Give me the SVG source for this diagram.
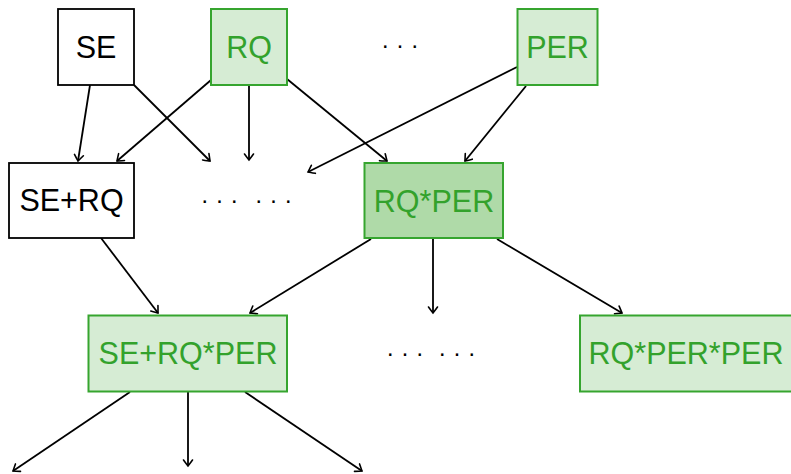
<svg xmlns="http://www.w3.org/2000/svg" width="791" height="474" viewBox="0 0 791 474">
  <style>
    .box { stroke: #000; stroke-width: 1.8; fill: #fff; }
    .gbox { stroke: #36a52f; stroke-width: 2; fill: #d6ecd4; }
    .gdark { fill: #afdaa8; }
    .lbl { font-family: "Liberation Sans", Arial, sans-serif; font-size: 30.5px; text-anchor: middle; fill: #000; }
    .glbl { fill: #33a22c; }
    .dots { font-family: "Liberation Sans", Arial, sans-serif; font-size: 24px; text-anchor: middle; fill: #000; }
    .edge { stroke: #000; stroke-width: 1.8; fill: none; marker-end: url(#to); }
  </style>
  <defs>
    <marker id="to" markerUnits="userSpaceOnUse" markerWidth="14" markerHeight="14" refX="0" refY="0" viewBox="-8 -7 10 14" orient="auto" overflow="visible">
      <path d="M -6 -4.5 Q -1.5 -1.2 0 0 Q -1.5 1.2 -6 4.5" fill="none" stroke="#000" stroke-width="1.6" stroke-linecap="round"/>
    </marker>
  </defs>

  <g id="connectors">
    <line class="edge" x1="90" y1="85" x2="78" y2="161"/>
    <line class="edge" x1="134" y1="85" x2="210" y2="161"/>
    <line class="edge" x1="211" y1="80" x2="117" y2="161"/>
    <line class="edge" x1="249" y1="85" x2="249" y2="160"/>
    <line class="edge" x1="287" y1="79" x2="387" y2="161"/>
    <line class="edge" x1="517" y1="67" x2="308" y2="172"/>
    <line class="edge" x1="526" y1="86" x2="465" y2="161"/>
    <line class="edge" x1="101" y1="238" x2="158" y2="313"/>
    <line class="edge" x1="371" y1="239" x2="250" y2="313"/>
    <line class="edge" x1="433" y1="239" x2="433" y2="313"/>
    <line class="edge" x1="497" y1="239" x2="622" y2="313"/>
    <line class="edge" x1="130" y1="392" x2="13" y2="471"/>
    <line class="edge" x1="188" y1="392" x2="188" y2="466"/>
    <line class="edge" x1="245" y1="392" x2="362" y2="471"/>
  </g>

  <g id="se">
    <rect class="box" x="58" y="9" width="76" height="76"/>
    <text class="lbl" x="96" y="58">SE</text>
  </g>
  <g id="rq">
    <rect class="gbox" x="211" y="9" width="76" height="76"/>
    <text class="lbl glbl" x="249" y="58">RQ</text>
  </g>
  <g id="top-dots">
    <text class="dots" x="400" y="53">· · ·</text>
  </g>
  <g id="per">
    <rect class="gbox" x="517.5" y="9" width="80" height="76"/>
    <text class="lbl glbl" x="557.5" y="58">PER</text>
  </g>

  <g id="se-rq">
    <rect class="box" x="9" y="163" width="125" height="75"/>
    <text class="lbl" x="71.5" y="211">SE+RQ</text>
  </g>
  <g id="mid-dots">
    <text class="dots" x="219.5" y="208">· · ·</text>
    <text class="dots" x="273.5" y="208">· · ·</text>
  </g>
  <g id="rq-per">
    <rect class="gbox gdark" x="364.5" y="163" width="138.5" height="75"/>
    <text class="lbl glbl" x="434" y="212">RQ*PER</text>
  </g>

  <g id="se-rq-per">
    <rect class="gbox" x="88.5" y="315.5" width="198.5" height="76"/>
    <text class="lbl glbl" x="188" y="364">SE+RQ*PER</text>
  </g>
  <g id="bottom-dots">
    <text class="dots" x="405" y="361">· · ·</text>
    <text class="dots" x="457" y="361">· · ·</text>
  </g>
  <g id="rq-per-per">
    <rect class="gbox" x="580" y="315.5" width="214" height="76"/>
    <text class="lbl glbl" x="686" y="364">RQ*PER*PER</text>
  </g>
</svg>
